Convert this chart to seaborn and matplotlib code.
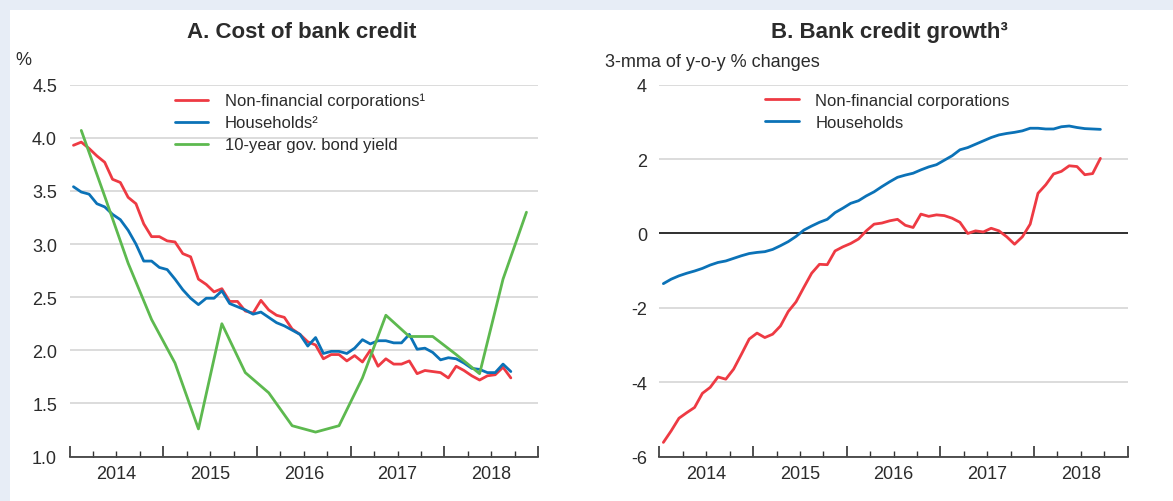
import numpy as np
import pandas as pd
import matplotlib
matplotlib.use("Agg")
import matplotlib.pyplot as plt
from matplotlib.patches import Rectangle
from matplotlib.ticker import MultipleLocator, NullFormatter
import seaborn as sns

# monthly series, Jan 2014 - Sep 2018
n_months = 57
months = 2014 + (np.arange(n_months) + 0.5) / 12

cost_nfc = [3.93, 3.96, 3.90, 3.83, 3.77, 3.61, 3.58, 3.44, 3.38, 3.19, 3.07, 3.07,
            3.03, 3.02, 2.91, 2.88, 2.67, 2.62, 2.55, 2.58, 2.46, 2.46, 2.37, 2.35,
            2.47, 2.38, 2.33, 2.31, 2.20, 2.15, 2.08, 2.05, 1.92, 1.96, 1.96, 1.90,
            1.95, 1.89, 2.00, 1.85, 1.92, 1.87, 1.87, 1.90, 1.78, 1.81, 1.80, 1.79,
            1.74, 1.85, 1.81, 1.76, 1.72, 1.76, 1.77, 1.84, 1.74]
cost_hh = [3.54, 3.49, 3.47, 3.38, 3.35, 3.28, 3.23, 3.13, 3.00, 2.84, 2.84, 2.78,
           2.76, 2.67, 2.57, 2.49, 2.43, 2.49, 2.49, 2.56, 2.44, 2.41, 2.38, 2.34,
           2.36, 2.31, 2.26, 2.23, 2.19, 2.15, 2.04, 2.12, 1.97, 1.99, 1.99, 1.97,
           2.02, 2.10, 2.06, 2.09, 2.09, 2.07, 2.07, 2.15, 2.01, 2.02, 1.98, 1.91,
           1.93, 1.92, 1.88, 1.83, 1.82, 1.79, 1.79, 1.87, 1.80]

# quarterly bond yield, 2014Q1 - 2018Q4 (mid-quarter)
quarters = 2014 + (np.arange(20) + 0.5) / 4
bond_yield = [4.07, 3.45, 2.82, 2.29, 1.88, 1.26, 2.25, 1.79, 1.60, 1.29,
              1.23, 1.29, 1.74, 2.33, 2.13, 2.13, 1.96, 1.78, 2.67, 3.30]

growth_nfc = [-5.62, -5.31, -4.97, -4.82, -4.68, -4.30, -4.14, -3.86, -3.92, -3.65,
              -3.25, -2.84, -2.68, -2.80, -2.71, -2.49, -2.10, -1.84, -1.45, -1.07,
              -0.83, -0.84, -0.47, -0.36, -0.27, -0.15, 0.07, 0.25, 0.28, 0.34,
              0.38, 0.22, 0.16, 0.52, 0.46, 0.50, 0.48, 0.41, 0.30, 0.00,
              0.07, 0.04, 0.14, 0.07, -0.09, -0.29, -0.09, 0.25, 1.08, 1.31,
              1.60, 1.67, 1.82, 1.80, 1.58, 1.61, 2.02]
growth_hh = [-1.35, -1.23, -1.14, -1.07, -1.01, -0.94, -0.85, -0.78, -0.74, -0.67,
             -0.60, -0.54, -0.51, -0.49, -0.43, -0.33, -0.22, -0.08, 0.09, 0.20,
             0.30, 0.38, 0.56, 0.68, 0.81, 0.88, 1.01, 1.12, 1.26, 1.39,
             1.51, 1.57, 1.62, 1.71, 1.79, 1.85, 1.97, 2.09, 2.25, 2.31,
             2.40, 2.49, 2.58, 2.65, 2.69, 2.72, 2.76, 2.83, 2.83, 2.81,
             2.81, 2.87, 2.89, 2.85, 2.82, 2.81, 2.80]

years = [2014, 2015, 2016, 2017, 2018]

RED = "#ee3a43"
BLUE = "#0b72b7"
GREEN = "#5db94f"
BG = "#e7edf6"
TXT = "#2b2b2b"

sns.set_theme(style="white")
plt.rcParams["font.family"] = ["Liberation Sans", "DejaVu Sans"]
plt.rcParams["text.color"] = TXT
plt.rcParams["axes.unicode_minus"] = False

fig = plt.figure(figsize=(11.73, 5.02), dpi=100, facecolor=BG)
fig.add_artist(Rectangle((10 / 1173, 0), 1, 1 - 11 / 502, transform=fig.transFigure,
                         facecolor="white", edgecolor="none", zorder=-10))

ax_a = fig.add_axes([0.0593, 0.0886, 0.3995, 0.7406])
ax_b = fig.add_axes([0.5622, 0.0886, 0.3992, 0.7406])

df_a = pd.DataFrame({"t": months, "nfc": cost_nfc, "hh": cost_hh})
df_q = pd.DataFrame({"t": quarters, "yield": bond_yield})
df_b = pd.DataFrame({"t": months, "nfc": growth_nfc, "hh": growth_hh})

lw = 2.0
sns.lineplot(data=df_a, x="t", y="nfc", ax=ax_a, color=RED, lw=lw,
             label="Non-financial corporations\u00b9")
sns.lineplot(data=df_a, x="t", y="hh", ax=ax_a, color=BLUE, lw=lw,
             label="Households\u00b2")
sns.lineplot(data=df_q, x="t", y="yield", ax=ax_a, color=GREEN, lw=lw,
             label="10-year gov. bond yield")

sns.lineplot(data=df_b, x="t", y="nfc", ax=ax_b, color=RED, lw=lw,
             label="Non-financial corporations")
sns.lineplot(data=df_b, x="t", y="hh", ax=ax_b, color=BLUE, lw=lw,
             label="Households")
ax_b.axhline(0, color="#222222", lw=1.3, zorder=1.5)

ax_a.set_ylim(1.0, 4.5)
ax_a.set_yticks(np.arange(1.0, 4.51, 0.5))
ax_a.set_yticklabels([f"{v:.1f}" for v in np.arange(1.0, 4.51, 0.5)])
ax_b.set_ylim(-6, 4)
ax_b.set_yticks([-6, -4, -2, 0, 2, 4])

for ax in (ax_a, ax_b):
    ax.set_facecolor("none")
    ax.set_xlim(2014, 2019)
    ax.set_xlabel("")
    ax.set_ylabel("")
    for side in ("left", "right", "top"):
        ax.spines[side].set_visible(False)
    ax.spines["bottom"].set_color("#333333")
    ax.spines["bottom"].set_linewidth(1.2)
    ax.yaxis.grid(True, color="#d6d6d6", lw=1.2)
    ax.set_axisbelow(True)
    ax.tick_params(axis="y", length=0, pad=9, labelsize=13, labelcolor=TXT)

    # year boundaries as major ticks, quarters as minor ticks
    ax.xaxis.set_major_locator(MultipleLocator(1))
    ax.xaxis.set_minor_locator(MultipleLocator(0.25))
    ax.xaxis.set_major_formatter(NullFormatter())
    ax.tick_params(axis="x", which="major", direction="in", length=8, width=1.2,
                   color="#333333", bottom=True)
    ax.tick_params(axis="x", which="minor", direction="in", length=4, width=1.0,
                   color="#333333", bottom=True)

    sec = ax.secondary_xaxis("bottom")
    sec.set_xticks([y + 0.5 for y in years], [str(y) for y in years])
    sec.tick_params(length=0, pad=6, labelsize=13, labelcolor=TXT)
    sec.spines["bottom"].set_visible(False)

leg_kw = dict(loc="upper left", frameon=False, borderpad=0, borderaxespad=0,
              handlelength=2.0, handletextpad=1.0, labelspacing=0.42, fontsize=12)
ax_a.legend(bbox_to_anchor=(0.225, 0.978), **leg_kw)
ax_b.legend(bbox_to_anchor=(0.226, 0.978), **leg_kw)

fig.text(0.257, 0.9237, "A. Cost of bank credit", ha="center", va="baseline",
         fontsize=16, fontweight="bold", color=TXT)
fig.text(0.758, 0.9237, "B. Bank credit growth\u00b3", ha="center", va="baseline",
         fontsize=16, fontweight="bold", color=TXT)
fig.text(0.0128, 0.8705, "%", ha="left", va="baseline", fontsize=13, color=TXT)
fig.text(0.5154, 0.8675, "3-mma of y-o-y % changes", ha="left", va="baseline",
         fontsize=13, color=TXT)

fig.savefig("out.png", dpi=100, facecolor=BG)
